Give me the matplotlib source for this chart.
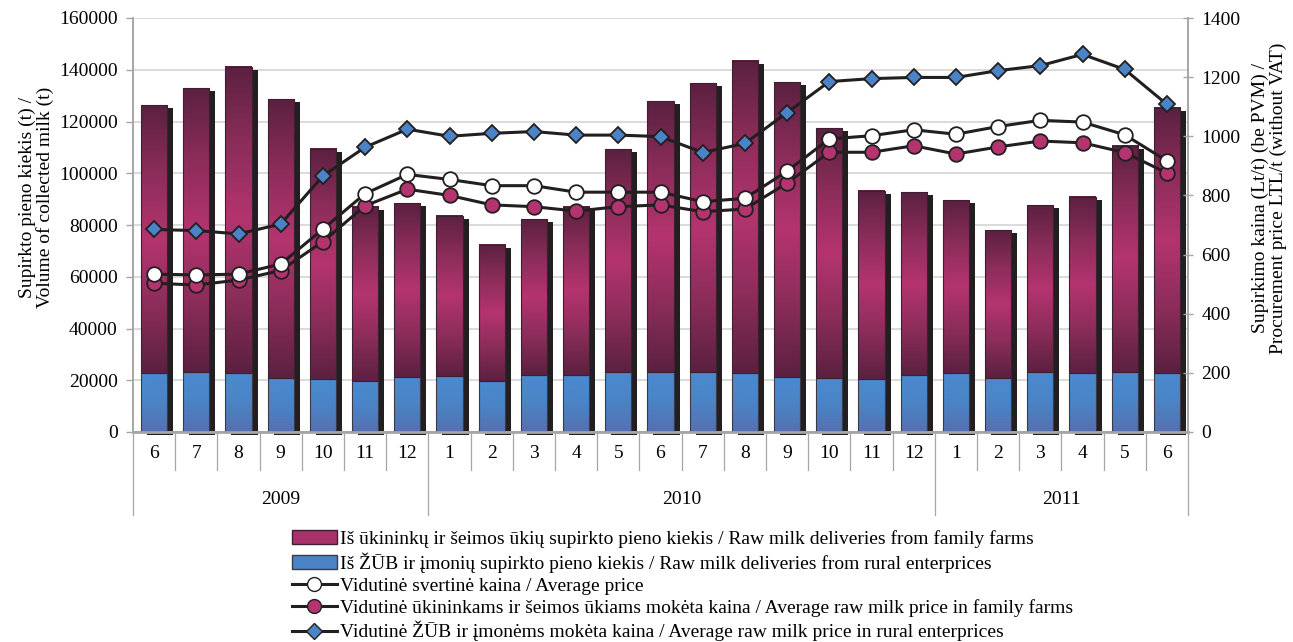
import matplotlib
matplotlib.use('Agg')
import matplotlib.pyplot as plt
import matplotlib.transforms as mtransforms
from matplotlib.colors import LinearSegmentedColormap
from matplotlib.patches import Rectangle, Patch
from matplotlib.lines import Line2D
import numpy as np

plt.rcParams['font.family'] = ['Liberation Serif', 'DejaVu Serif']

# ── Data ──────────────────────────────────────────────────────────────────────
months = [6, 7, 8, 9, 10, 11, 12, 1, 2, 3, 4, 5, 6, 7, 8, 9, 10, 11, 12,
          1, 2, 3, 4, 5, 6]
years = ['2009', '2010', '2011']
year_counts = [7, 12, 6]

# collected milk, t
family_vol = [103500, 109500, 118300, 107600, 89000, 67400, 67000, 61900,
              52600, 60100, 65000, 86100, 104700, 111400, 120600, 114000,
              96600, 72900, 70500, 66800, 57000, 64400, 68100, 87400, 102600]
rural_vol = [22900, 23300, 22700, 21000, 20400, 19700, 21400, 21600, 19700,
             22100, 22100, 23300, 23300, 23300, 22800, 21400, 20900, 20400,
             22100, 22700, 20900, 23300, 22700, 23300, 22700]

# prices, Lt/t
avg_price = [534, 531, 534, 568, 686, 806, 871, 854, 833, 833, 811, 811, 811,
             779, 790, 882, 991, 1002, 1022, 1007, 1033, 1054, 1048, 1005, 917]
family_price = [503, 497, 514, 546, 644, 765, 821, 800, 768, 762, 747, 762,
                768, 745, 754, 842, 946, 946, 968, 940, 964, 984, 978, 945, 876]
rural_price = [685, 681, 670, 703, 866, 963, 1024, 1000, 1010, 1016, 1004,
               1004, 999, 945, 976, 1080, 1185, 1195, 1199, 1199, 1222, 1239,
               1277, 1226, 1108]

labels = [
    'Iš ūkininkų ir šeimos ūkių supirkto pieno kiekis / Raw milk deliveries from family farms',
    'Iš ŽŪB ir įmonių supirkto pieno kiekis / Raw milk deliveries from rural enterprices',
    'Vidutinė svertinė kaina / Average price',
    'Vidutinė ūkininkams ir šeimos ūkiams mokėta kaina / Average raw milk price in family farms',
    'Vidutinė ŽŪB ir įmonėms mokėta kaina / Average raw milk price in rural enterprices',
]

DARK = '#231f20'
MAGENTA = '#b3346f'
BLUE = '#4a84c6'
GRID = '#d4d4d4'
AXIS = '#a6a6a6'
FS = 14

magenta_cmap = LinearSegmentedColormap.from_list(
    'mag', ['#5c2140', '#8c2d5a', '#b5346f', '#8c2d5a', '#5c2140'])
blue_cmap = LinearSegmentedColormap.from_list(
    'blu', ['#4a8ad0', '#4a84c6', '#5670b0'])

# ── Figure ────────────────────────────────────────────────────────────────────
fig = plt.figure(figsize=(12.93, 6.42), dpi=100)
ax = fig.add_axes([133 / 1293, 210 / 642, 1055 / 1293, 414 / 642])
ax2 = ax.twinx()

n = len(months)
x = np.arange(n)
bw = 0.62
sx = 6 / 42.2          # shadow offset (px -> data)
sy = 3 * 160000 / 414

grad = np.linspace(0, 1, 128).reshape(-1, 1)
for i in range(n):
    r, f = rural_vol[i], family_vol[i]
    x0, x1 = x[i] - bw / 2, x[i] + bw / 2
    # shadow
    ax.add_patch(Rectangle((x0 + sx, -sy), bw, r + f, facecolor=DARK,
                           edgecolor='none', zorder=2, clip_on=False))
    ax.add_patch(Rectangle((x0 + sx, -sy), bw, r, facecolor=DARK,
                           edgecolor='none', zorder=2, clip_on=False))
    # faces with gradient
    ax.imshow(grad, cmap=blue_cmap, extent=[x0, x1, 0, r], aspect='auto',
              origin='upper', interpolation='bilinear', zorder=3)
    ax.imshow(grad, cmap=magenta_cmap, extent=[x0, x1, r, r + f],
              aspect='auto', origin='upper', interpolation='bilinear', zorder=3)
    ax.add_patch(Rectangle((x0, 0), bw, r, facecolor='none',
                           edgecolor='#3a3a4a', lw=0.8, zorder=4))
    ax.add_patch(Rectangle((x0, r), bw, f, facecolor='none',
                           edgecolor='#3a2030', lw=0.8, zorder=4))

ax.set_xlim(-0.5, n - 0.5)
ax.set_ylim(0, 160000)
ax.set_yticks(np.arange(0, 160001, 20000))
ax.grid(axis='y', color=GRID, lw=1.2, zorder=0)
ax.set_axisbelow(True)
ax.set_xticks([])
ax.tick_params(axis='y', labelsize=FS, color=AXIS, length=5, width=1, pad=6)

ax2.set_ylim(0, 1400)
ax2.set_yticks(np.arange(0, 1401, 200))
ax2.tick_params(axis='y', labelsize=FS, color=AXIS, length=7, width=1,
                direction='inout', pad=6)

for a in (ax, ax2):
    a.spines['top'].set_visible(False)
    for s in ('left', 'right', 'bottom'):
        a.spines[s].set_color(AXIS)
        a.spines[s].set_linewidth(1.2)
ax.spines['bottom'].set_linewidth(2)

line_kw = dict(color=DARK, lw=2.2, markeredgecolor=DARK, markeredgewidth=1.3,
               zorder=5, clip_on=False)
ax2.plot(x, rural_price, marker='D', markersize=8.5, markerfacecolor=BLUE,
         **line_kw)
ax2.plot(x, family_price, marker='o', markersize=10.5,
         markerfacecolor=MAGENTA, **line_kw)
ax2.plot(x, avg_price, marker='o', markersize=10.5, markerfacecolor='white',
         **line_kw)

# ── Category axis (months / years) ────────────────────────────────────────────
trans = mtransforms.blended_transform_factory(ax.transData, ax.transAxes)
bounds = np.cumsum([0] + year_counts) - 0.5
for b in np.arange(-0.5, n, 1.0):
    depth = -0.2 if b in bounds else -0.092
    ax.plot([b, b], [0, depth], transform=trans, color=AXIS, lw=0.9,
            clip_on=False)
for i, m in enumerate(months):
    ax.text(x[i], -0.053, str(m), transform=trans, ha='center', va='center',
            fontsize=FS)
for k, yr in enumerate(years):
    ax.text((bounds[k] + bounds[k + 1]) / 2, -0.164, yr, transform=trans,
            ha='center', va='center', fontsize=FS)

fig.text(36 / 1293, 1 - 197 / 642,
         'Supirkto pieno kiekis (t) /\nVolume of collected milk (t)',
         rotation=90, ha='center', va='center', fontsize=FS, linespacing=1.0)
fig.text(1269 / 1293, 1 - 198 / 642,
         'Supirkimo kaina (Lt/t) (be PVM) /\nProcurement price LTL/t (without VAT)',
         rotation=90, ha='center', va='center', fontsize=FS, linespacing=1.05)

# ── Legend ────────────────────────────────────────────────────────────────────
handles = [
    Patch(facecolor='#a8336a', edgecolor='#3a2030', lw=1),
    Patch(facecolor=BLUE, edgecolor='#3a3a4a', lw=1),
    Line2D([], [], color=DARK, lw=2.2, marker='o', markersize=10,
           markerfacecolor='white', markeredgecolor=DARK),
    Line2D([], [], color=DARK, lw=2.2, marker='o', markersize=10,
           markerfacecolor=MAGENTA, markeredgecolor=DARK),
    Line2D([], [], color=DARK, lw=2.2, marker='D', markersize=8,
           markerfacecolor=BLUE, markeredgecolor=DARK),
]
fig.legend(handles, labels, loc='upper left',
           bbox_to_anchor=(292 / 1293, 1 - 530 / 642), frameon=False,
           fontsize=FS, handlelength=2.3, handletextpad=0.15,
           labelspacing=0.22, borderaxespad=0, borderpad=0)

fig.savefig('out.png', dpi=100, facecolor='white')
